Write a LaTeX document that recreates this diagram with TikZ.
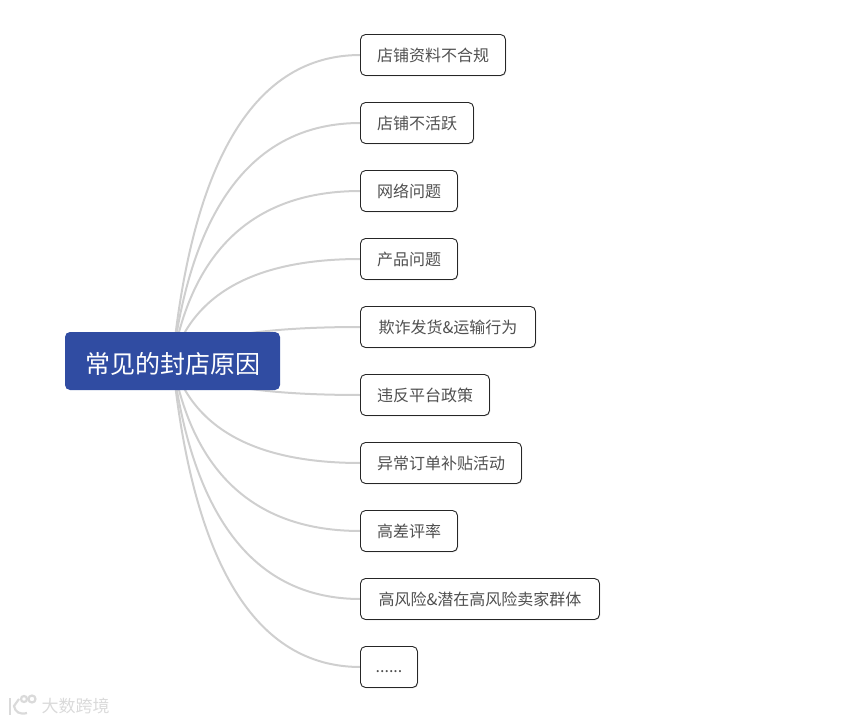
\documentclass[tikz,border=0pt]{standalone}
\usepackage{fontspec}
\setmainfont{Noto Sans CJK SC}
\usetikzlibrary{backgrounds,shadows}
\definecolor{rootblue}{HTML}{304CA2}
\definecolor{linkgray}{HTML}{CFCFCF}
\definecolor{leaftext}{HTML}{505050}
\definecolor{markgray}{HTML}{DADADA}

\tikzset{
    leaf/.style={draw=black!85, line width=0.9pt, rounded corners=5pt, fill=white, anchor=west, outer sep=0pt, minimum height=41pt, inner sep=0pt, text=leaftext, font=\fontsize{16}{18}\selectfont, drop shadow={shadow xshift=0.8pt, shadow yshift=-0.8pt, opacity=0.25}},
    link/.style={draw=linkgray, line width=2pt},
    markline/.style={draw=markgray, line width=2.2pt}
}

\begin{document}
\begin{tikzpicture}[x=1pt, y=-1pt]
    \useasboundingbox (0,0) rectangle (846,722);
    \node[fill=rootblue, rounded corners=5pt, minimum width=215pt, minimum height=58pt, inner sep=0pt, text=white, text height=25pt, text depth=0pt, font=\fontsize{25}{28}\selectfont] (root) at (172.5,361) {常见的封店原因};
    \node[leaf, minimum width=145pt] (profile) at (360.5,55) {店铺资料不合规};
    \node[leaf, minimum width=113pt] (inactive) at (360.5,123) {店铺不活跃};
    \node[leaf, minimum width=97pt] (network) at (360.5,191) {网络问题};
    \node[leaf, minimum width=97pt] (product) at (360.5,259) {产品问题};
    \node[leaf, minimum width=175pt] (fraud) at (360.5,327) {欺诈发货\&运输行为};
    \node[leaf, minimum width=129pt] (policy) at (360.5,395) {违反平台政策};
    \node[leaf, minimum width=161pt] (order) at (360.5,463) {异常订单补贴活动};
    \node[leaf, minimum width=97pt] (rating) at (360.5,531) {高差评率};
    \node[leaf, minimum width=239pt] (risk) at (360.5,599) {高风险\&潜在高风险卖家群体};
    \node[leaf, minimum width=57pt, text height=10pt, text depth=0pt] (more) at (360.5,667) {......};
    \begin{pgfonlayer}{background}
        \draw[link] (root.center) .. controls (193,157) and (256,55) .. (profile.west);
        \draw[link] (root.center) .. controls (193,202.7) and (256,123) .. (inactive.west);
        \draw[link] (root.center) .. controls (193,247.7) and (256,191) .. (network.west);
        \draw[link] (root.center) .. controls (193,293) and (256,259) .. (product.west);
        \draw[link] (root.center) .. controls (193,338.3) and (256,327) .. (fraud.west);
        \draw[link] (root.center) .. controls (193,383.7) and (256,395) .. (policy.west);
        \draw[link] (root.center) .. controls (193,429) and (256,463) .. (order.west);
        \draw[link] (root.center) .. controls (193,474.3) and (256,531) .. (rating.west);
        \draw[link] (root.center) .. controls (193,519.7) and (256,599) .. (risk.west);
        \draw[link] (root.center) .. controls (193,565) and (256,667) .. (more.west);
    \end{pgfonlayer}
    % watermark
    \node[text=markgray, font=\fontsize{17}{19}\selectfont, inner sep=0pt] (mark) at (75.5,706) {大数跨境};
    \draw[markline] (10,698) -- (10,715);
    \draw[markline] (19,699) -- (14,706) .. controls (15,712) and (20,715) .. (27,713);
    \draw[markline] (24,699) circle (3pt);
    \draw[markline] (32,699) circle (3.5pt);
\end{tikzpicture}
\end{document}
